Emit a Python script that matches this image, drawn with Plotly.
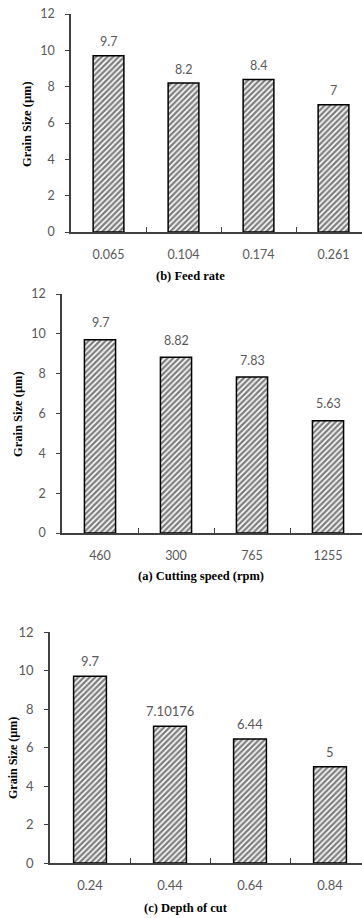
import plotly.graph_objects as go

# ---- data ----
feed_rate = ["0.065", "0.104", "0.174", "0.261"]
feed_grain = [9.7, 8.2, 8.4, 7]
feed_labels = ["9.7", "8.2", "8.4", "7"]

speed = ["460", "300", "765", "1255"]
speed_grain = [9.7, 8.82, 7.83, 5.63]
speed_labels = ["9.7", "8.82", "7.83", "5.63"]

depth = ["0.24", "0.44", "0.64", "0.84"]
depth_grain = [9.7, 7.10176, 6.44, 5]
depth_labels = ["9.7", "7.10176", "6.44", "5"]

y_ticks = [0, 2, 4, 6, 8, 10, 12]

W, H = 362, 918
GRAY = "#595959"
AX = "#404040"
SANS = "Lato, Calibri, Noto Sans, sans-serif"
SERIF = "Liberation Serif, Times New Roman, serif"

panels = [
    dict(cats=feed_rate, vals=feed_grain, labels=feed_labels, title="(b) Feed rate",
         left=71, catw=75, top=14, zero=232, yshift=14, tx=190, ty=276, yx=27, yy=124, fs=12.5),
    dict(cats=speed, vals=speed_grain, labels=speed_labels, title="(a) Cutting speed (rpm)",
         left=62, catw=76, top=294, zero=533, yshift=17, tx=201, ty=576, yx=18, yy=414, fs=12.5),
    dict(cats=depth, vals=depth_grain, labels=depth_labels, title="(c) Depth of cut",
         left=50, catw=80, top=632, zero=863, yshift=15, tx=186, ty=908, yx=13, yy=758, fs=13),
]

fig = go.Figure()
annotations = []
for i, p in enumerate(panels):
    n = "" if i == 0 else str(i + 1)
    xa, ya = "x" + n, "y" + n
    fig.add_trace(go.Bar(
        x=p["cats"], y=p["vals"], xaxis=xa, yaxis=ya, width=0.41,
        marker=dict(color="white", line=dict(color="black", width=1.5),
                    pattern=dict(shape="/", fgcolor="black", bgcolor="white",
                                 size=4, solidity=0.6)),
        showlegend=False, hoverinfo="x+y",
    ))
    for j, (v, t) in enumerate(zip(p["vals"], p["labels"])):
        annotations.append(dict(x=j, y=v, xref=xa, yref=ya, text=t, showarrow=False,
                                yanchor="middle", yshift=p["yshift"],
                                font=dict(family=SANS, size=p["fs"], color=GRAY)))
    annotations.append(dict(x=p["tx"] / W, y=1 - p["ty"] / H, xref="paper", yref="paper",
                            text="<b>%s</b>" % p["title"], showarrow=False,
                            xanchor="center", yanchor="middle",
                            font=dict(family=SERIF, size=12.5, color="black")))
    annotations.append(dict(x=p["yx"] / W, y=1 - p["yy"] / H, xref="paper", yref="paper",
                            text="<b>Grain Size (µm)</b>", showarrow=False, textangle=-90,
                            xanchor="center", yanchor="middle",
                            font=dict(family=SERIF, size=12.5 if i < 2 else 12, color="black")))
    span = (W - p["left"]) / p["catw"]
    xkey = "xaxis" + n
    ykey = "yaxis" + n
    fig.update_layout(**{
        xkey: dict(domain=[p["left"] / W, 1], anchor=ya, type="category",
                   range=[-0.5, -0.5 + span], showline=True, linecolor=AX, linewidth=1.5,
                   ticks="inside", ticklen=5, tickcolor=AX, tickwidth=1,
                   tickson="boundaries", showgrid=False, zeroline=False,
                   tickfont=dict(family=SANS, size=p["fs"], color=GRAY),
                   ticklabelstandoff=10, fixedrange=True, automargin=False),
        ykey: dict(domain=[1 - p["zero"] / H, 1 - p["top"] / H], anchor=xa,
                   range=[0, 12], tickvals=y_ticks, showline=True, linecolor=AX,
                   linewidth=1.5, ticks="outside", ticklen=4, tickcolor=AX,
                   showgrid=False, zeroline=False,
                   tickfont=dict(family=SANS, size=p["fs"], color=GRAY),
                   ticklabelstandoff=8, fixedrange=True, automargin=False),
    })

fig.update_layout(width=W, height=H, margin=dict(l=0, r=0, t=0, b=0),
                  paper_bgcolor="white", plot_bgcolor="white",
                  annotations=annotations, bargap=0.59)
fig.write_html("out.html", config={"displayModeBar": False},
               post_script="document.body.style.margin='0';document.body.style.overflow='hidden';")
